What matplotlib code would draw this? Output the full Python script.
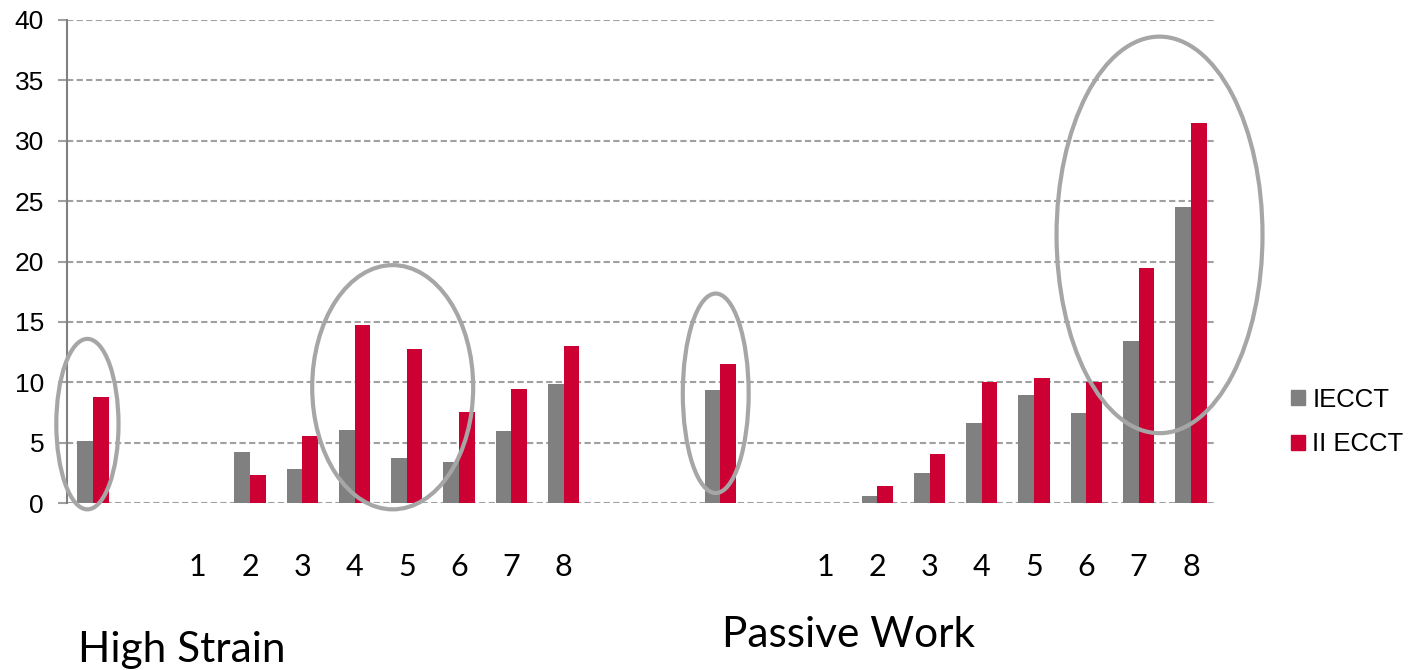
import numpy as np
import matplotlib.pyplot as plt
from matplotlib.patches import Ellipse, Patch

# 22 category slots, empty slots have no bars
ieccT = [5.15, 0, 0, 4.24, 2.84, 6.06, 3.75, 3.42, 5.98, 9.87, 0, 0,
         9.38, 0, 0, 0.6, 2.5, 6.64, 8.96, 7.47, 13.43, 24.5]
ii_ecct = [8.8, 0, 0, 2.34, 5.6, 14.75, 12.76, 7.55, 9.45, 13.0, 0, 0,
           11.52, 0, 0, 1.43, 4.08, 10.03, 10.36, 10.03, 19.46, 31.46]
series_names = ['IECCT', 'II ECCT']
group_labels = ['1', '2', '3', '4', '5', '6', '7', '8']
group_titles = ['High Strain', 'Passive Work']

GRAY = '#808080'
RED = '#CC0033'
LINE = '#A0A0A0'

plt.rcParams['font.family'] = ['Liberation Sans', 'DejaVu Sans']

fig = plt.figure(figsize=(14.14, 6.7), dpi=100)
ax = fig.add_axes([0.0474, 0.2488, 0.8133, 0.7218])

x = np.arange(len(ieccT))
w = 0.3
ax.bar(x - w / 2, ieccT, w, color=GRAY, zorder=3)
ax.bar(x + w / 2, ii_ecct, w, color=RED, zorder=3)

ax.set_xlim(-0.5, len(ieccT) - 0.5)
ax.set_ylim(0, 40)
ax.set_yticks(range(0, 41, 5))
ax.yaxis.grid(True, linestyle=(0, (3, 1.6)), color=LINE, linewidth=1.5, zorder=0)
ax.set_axisbelow(True)
for s in ['top', 'right', 'bottom']:
    ax.spines[s].set_visible(False)
ax.spines['left'].set_color(GRAY)
ax.spines['left'].set_linewidth(1.5)
ax.tick_params(axis='y', length=6.5, width=1.5, color=LINE, pad=10,
               labelsize=19)

# numbered labels under each block
tick_pos = list(range(2, 10)) + list(range(14, 22))
ax.set_xticks(tick_pos, group_labels + group_labels)
ax.tick_params(axis='x', length=0, pad=36)
for lab in ax.get_xticklabels():
    lab.set_fontfamily(['Lato', 'DejaVu Sans'])
    lab.set_fontsize(22)

# highlight ellipses (center x, center y, width, height) in data units
ellipses = [(-0.11, 6.55, 1.19, 14.1), (5.73, 9.6, 3.08, 20.2),
            (11.91, 9.1, 1.26, 16.5), (20.4, 22.2, 3.94, 32.8)]
for cx, cy, ew, eh in ellipses:
    ax.add_patch(Ellipse((cx, cy), ew, eh, fill=False, edgecolor='#A6A6A6',
                         linewidth=3, clip_on=False, zorder=4))

fig.text(0.0552, 0.012, group_titles[0], fontsize=30.5,
         family=['Lato', 'DejaVu Sans'], ha='left', va='baseline')
fig.text(0.5106, 0.0343, group_titles[1], fontsize=30.5,
         family=['Lato', 'DejaVu Sans'], ha='left', va='baseline')

handles = [Patch(color=GRAY, label=series_names[0]),
           Patch(color=RED, label=series_names[1])]
fig.legend(handles=handles, loc='center left', bbox_to_anchor=(0.9, 0.37),
           frameon=False, fontsize=18.5, handlelength=0.55, handleheight=0.55,
           handletextpad=0.3, labelspacing=0.8, borderpad=0.2)

fig.savefig('out.png', dpi=100)
